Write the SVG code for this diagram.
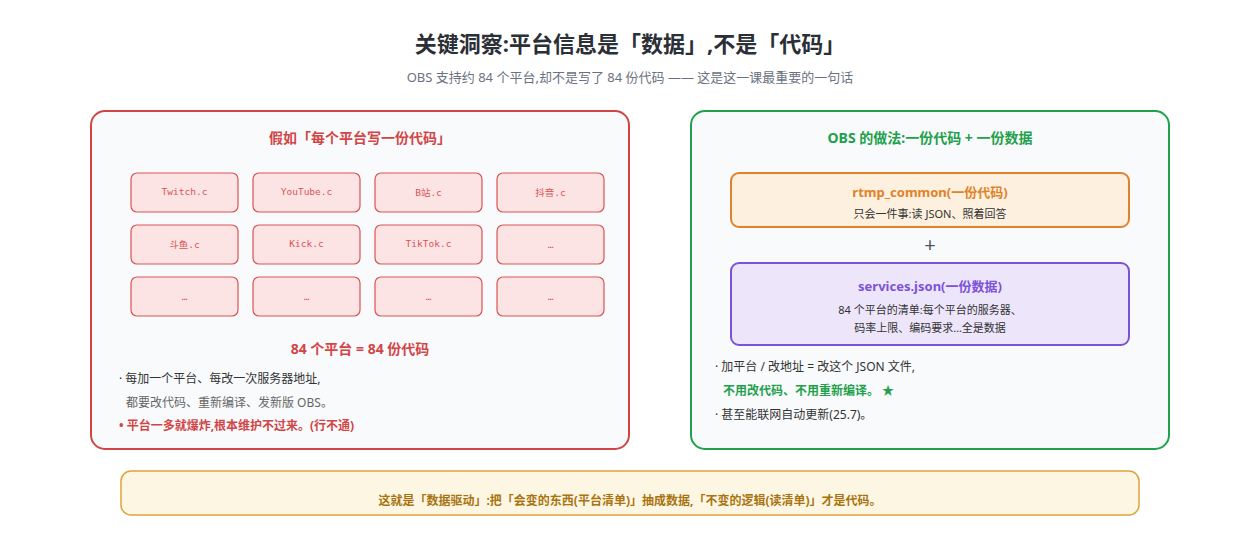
<svg xmlns="http://www.w3.org/2000/svg" width="1260" height="540" viewBox="0 0 1260 540">
<style>
text{font-family:"Noto Sans","Noto Sans CJK SC",sans-serif;text-anchor:middle}
.cell rect{fill:#fde4e4;stroke:#d95454;stroke-width:1.2}
.cell text{font-family:"DejaVu Sans Mono","Noto Sans CJK SC",monospace;font-size:9.5px;fill:#d95454}
.b{font-size:12px;fill:#333;text-anchor:start}
.g{font-size:12px;fill:#666;text-anchor:start}
text.s{text-anchor:start}
</style>
<rect width="1260" height="540" fill="#fff"/>
<g id="title">
<text x="630" y="52" font-size="22" font-weight="bold" fill="#2b2f36">关键洞察:平台信息是「数据」,不是「代码」</text>
<text x="630" y="82" font-size="13" fill="#6b7280">OBS 支持约 84 个平台,却不是写了 84 份代码 —— 这是这一课最重要的一句话</text>
</g>
<g id="left-panel">
<rect x="91" y="111" width="538" height="338" rx="14" fill="#f8fafc" stroke="#d24545" stroke-width="2"/>
<text x="360" y="143" font-size="14" font-weight="bold" fill="#d24545">假如「每个平台写一份代码」</text>
<g class="cell" id="c1"><rect x="131" y="173" width="107" height="39" rx="6"/><text x="184.5" y="195">Twitch.c</text></g>
<g class="cell" id="c2"><rect x="253" y="173" width="107" height="39" rx="6"/><text x="306.5" y="195">YouTube.c</text></g>
<g class="cell" id="c3"><rect x="375" y="173" width="107" height="39" rx="6"/><text x="428.5" y="196">B站.c</text></g>
<g class="cell" id="c4"><rect x="497" y="173" width="107" height="39" rx="6"/><text x="550.5" y="196">抖音.c</text></g>
<g class="cell" id="c5"><rect x="131" y="225" width="107" height="39" rx="6"/><text x="184.5" y="248">斗鱼.c</text></g>
<g class="cell" id="c6"><rect x="253" y="225" width="107" height="39" rx="6"/><text x="306.5" y="247">Kick.c</text></g>
<g class="cell" id="c7"><rect x="375" y="225" width="107" height="39" rx="6"/><text x="428.5" y="247">TikTok.c</text></g>
<g class="cell" id="c8"><rect x="497" y="225" width="107" height="39" rx="6"/><text x="550.5" y="248">…</text></g>
<g class="cell" id="c9"><rect x="131" y="277" width="107" height="39" rx="6"/><text x="184.5" y="300">…</text></g>
<g class="cell" id="c10"><rect x="253" y="277" width="107" height="39" rx="6"/><text x="306.5" y="300">…</text></g>
<g class="cell" id="c11"><rect x="375" y="277" width="107" height="39" rx="6"/><text x="428.5" y="300">…</text></g>
<g class="cell" id="c12"><rect x="497" y="277" width="107" height="39" rx="6"/><text x="550.5" y="300">…</text></g>
<text x="360" y="354" font-size="14" font-weight="bold" fill="#d24545">84 个平台 = 84 份代码</text>
<text class="b" x="119" y="383">· 每加一个平台、每改一次服务器地址,</text>
<text class="g" x="126" y="407">都要改代码、重新编译、发新版 OBS。</text>
<text class="s" x="119" y="430" font-size="12" font-weight="bold" fill="#d24545">• 平台一多就爆炸,根本维护不过来。(行不通)</text>
</g>
<g id="right-panel">
<rect x="691" y="111" width="478" height="338" rx="14" fill="#f8fafc" stroke="#22a04b" stroke-width="2"/>
<text x="930" y="143" font-size="14" font-weight="bold" fill="#22a04b">OBS 的做法:一份代码 + 一份数据</text>
</g>
<g id="rtmp">
<rect x="731" y="173" width="398" height="54" rx="8" fill="#fdf0de" stroke="#e0822a" stroke-width="2"/>
<text x="930" y="197" font-size="13" font-weight="bold" fill="#e0822a">rtmp_common(一份代码)</text>
<text x="930" y="218" font-size="11" fill="#333">只会一件事:读 JSON、照着回答</text>
</g>
<text x="930" y="252" font-size="20" fill="#4b5563">+</text>
<g id="services">
<rect x="731" y="263" width="398" height="82" rx="8" fill="#ede6fb" stroke="#7b52d8" stroke-width="2"/>
<text x="930" y="291" font-size="13" font-weight="bold" fill="#7b52d8">services.json(一份数据)</text>
<text x="930" y="314" font-size="11" fill="#333">84 个平台的清单:每个平台的服务器、</text>
<text x="930" y="332" font-size="11" fill="#333">码率上限、编码要求…全是数据</text>
</g>
<g id="right-notes">
<text class="b" x="715" y="371">· 加平台 / 改地址 = 改这个 JSON 文件,</text>
<text class="s" x="723" y="395" font-size="12" font-weight="bold" fill="#22a04b">不用改代码、不用重新编译。 ★</text>
<text class="b" x="715" y="419">· 甚至能联网自动更新(25.7)。</text>
</g>
<g id="banner">
<rect x="121" y="471" width="1018" height="44" rx="10" fill="#fdf6e3" stroke="#e0a23a" stroke-width="1.5"/>
<text x="630" y="505" font-size="12" font-weight="bold" fill="#a8740f">这就是「数据驱动」:把「会变的东西(平台清单)」抽成数据,「不变的逻辑(读清单)」才是代码。</text>
</g>
<g id="connectors"></g>
</svg>
